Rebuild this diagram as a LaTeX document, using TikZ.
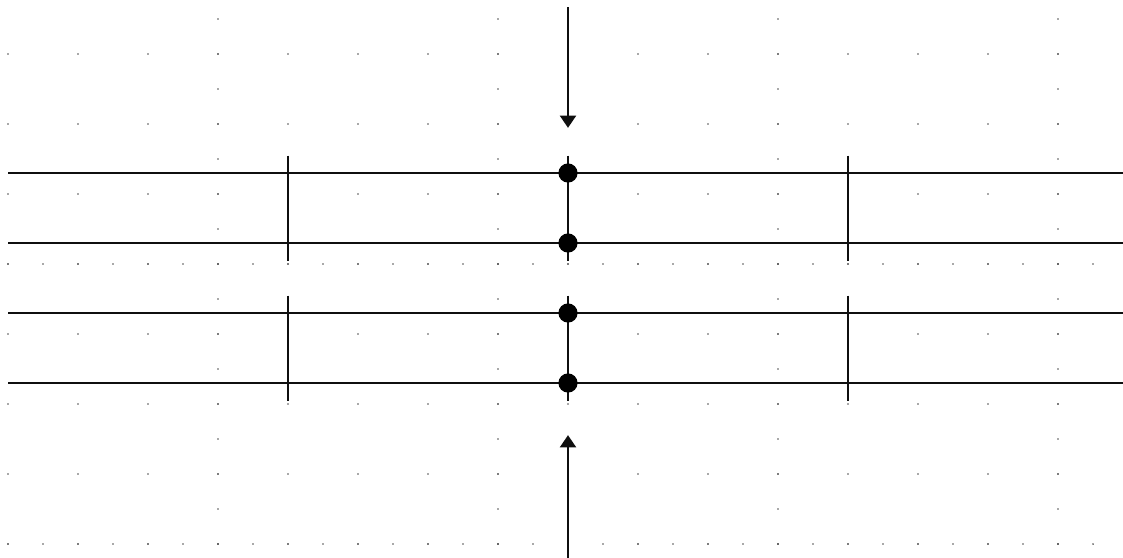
\documentclass[tikz,border=0pt]{standalone}
\usepackage{xcolor}
\usepackage{tikz}
\usetikzlibrary{positioning, arrows.meta}
\definecolor{griddot}{RGB}{80,80,80}
\definecolor{wireblack}{RGB}{15,15,15}

\tikzset{
    wire/.style={draw=wireblack, line width=1pt},
    ctrl/.style={circle, fill=black, inner sep=0pt, minimum size=7.8pt},
    pulse/.style={wire, -{Triangle[length=5pt, width=6.5pt]}}
}

\begin{document}
\begin{tikzpicture}[x=0.5cm, y=0.5cm]
    \useasboundingbox (-0.2286,-0.3714) rectangle (31.857,15.543);

    % background dot grid
    \foreach \x in {0,2,...,30}
        \foreach \y in {0,2,...,14}
            \fill[griddot] (\x,\y) circle (0.4pt);
    \foreach \y in {0,8}
        \foreach \x in {0,...,31}
            \fill[griddot] (\x,\y) circle (0.4pt);
    \foreach \x in {6,14,22,30}
        \foreach \y in {0,...,15}
            \fill[griddot] (\x,\y) circle (0.4pt);

    % wires
    \foreach \n/\y in {1/10.6, 2/8.6, 3/6.6, 4/4.6} {
        \coordinate (w\n l) at (0,\y);
        \coordinate (w\n r) at (31.857,\y);
        \draw[wire] (w\n l) -- (w\n r);
    }

    % gate separators
    \foreach \x/\g in {8/a, 24/b} {
        \coordinate (\g top1) at (\x,11.1);
        \coordinate (\g bot1) at (\x,8.1);
        \coordinate (\g top2) at (\x,7.1);
        \coordinate (\g bot2) at (\x,4.1);
        \draw[wire] (\g top1) -- (\g bot1);
        \draw[wire] (\g top2) -- (\g bot2);
    }

    % controlled pairs
    \coordinate (c1t) at (16,11.1);
    \coordinate (c1b) at (16,8.1);
    \coordinate (c2t) at (16,7.1);
    \coordinate (c2b) at (16,4.1);
    \draw[wire] (c1t) -- (c1b);
    \draw[wire] (c2t) -- (c2b);
    \node[ctrl] (q1) at (16,10.6) {};
    \node[ctrl] (q2) at (16,8.6) {};
    \node[ctrl] (q3) at (16,6.6) {};
    \node[ctrl] (q4) at (16,4.6) {};

    % incoming arrows
    \coordinate (intop) at (16,15.34);
    \coordinate (tiptop) at (16,11.89);
    \coordinate (inbot) at (16,-0.4);
    \coordinate (tipbot) at (16,3.11);
    \draw[pulse] (intop) -- (tiptop);
    \draw[pulse] (inbot) -- (tipbot);
\end{tikzpicture}
\end{document}
